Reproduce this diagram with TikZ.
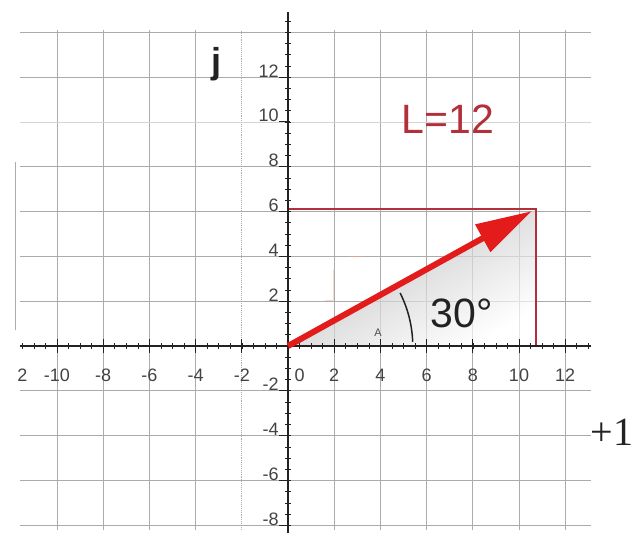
\documentclass[tikz,border=0pt]{standalone}
\usepackage{fontspec}
\setmainfont{Liberation Sans}
\newfontfamily\phserif{Liberation Serif}
\usetikzlibrary{arrows.meta}
\definecolor{phred}{HTML}{E31B1B}
\definecolor{phdark}{HTML}{B3303A}
\definecolor{phgray}{HTML}{ABABAB}
\definecolor{phink}{HTML}{222222}
\definecolor{phorange}{HTML}{F2A27E}
\tikzset{
  phgrid/.style={draw=phgray, line width=0.9pt},
  phaxis/.style={draw=phink, line width=1.6pt},
  phtick/.style={draw=phink, line width=1pt},
  phnum/.style={font=\fontsize{18}{18}\selectfont, text=phink!85, inner sep=0pt},
  phbig/.style={font=\fontsize{41}{41}\selectfont, inner sep=0pt},
  phvec/.style={-{Triangle[length=56pt,width=30pt]}, draw=phred, fill=phred, line width=6pt},
  phproj/.style={draw=phdark, line width=1.8pt},
}

\begin{document}
\begin{tikzpicture}[x=1pt, y=1pt]
  \useasboundingbox[fill=white] (0,0) rectangle (637,533);
  \begin{scope}[shift={(288pt,187pt)}, x=23.1pt, y=22.4pt]
    % grid
    \foreach \g in {-10,-8,...,-4,2,4,...,12}
      \draw[phgrid] (\g,-8.2) -- (\g,14.1);
    \draw[phgrid, densely dotted] (-2,-8.2) -- (-2,14.1);
    \draw[phgrid] (-11.8,0.7) -- (-11.8,8.2);
    \foreach \g in {-8,-6,...,8,12,14}
      \draw[phgrid] (-11.6,\g) -- (13.1,\g);
    \draw[phgrid, draw=phgray!50] (-11.6,10) -- (13.1,10);

    % vector and its projections
    \coordinate (O) at (0,0);
    \coordinate (P) at (10.75,6.1);
    \coordinate (Px) at (10.75,0);
    \coordinate (Py) at (0,6.1);
    \coordinate (T) at (10.55,6.02);
    \shade[shading=axis, top color=gray!70, bottom color=white, shading angle=30, opacity=0.7]
      (O) -- (P) -- (Px) -- cycle;
    \draw[phproj] (Py) -- (P) -- (Px);

    % axes
    \draw[phaxis] (-11.6,0) -- (13.1,0);
    \draw[phaxis] (0,-8.35) -- (0,14.9);
    \foreach \t in {-11.5,-11,...,13}
      \draw[phtick, line width=0.6pt] (\t,-0.12) -- (\t,0.12);
    \foreach \t in {-8,-7.5,...,14.5}
      \draw[phtick, line width=0.6pt] (-0.12,\t) -- (0.12,\t);
    \foreach \t in {-10,-8,...,12}
      \draw[phtick] (\t,-0.3) -- (\t,0.3);
    \foreach \t in {-8,-6,...,12}
      \draw[phtick] (-0.4,\t) -- (0.1,\t);

    % tick labels
    \foreach \v [count=\i] in {-10,-8,-6,-4,-2,2,4,6,8,10,12}
      \node[phnum, anchor=base] (xl\i) at (\v,-1.6) {\v};
    \node[phnum, anchor=base] (xl0) at (0.5,-1.6) {0};
    \node[phnum, anchor=base] (xlcut) at (-11.5,-1.6) {2};
    \foreach \v [count=\i] in {-8,-6,-4,-2,2,4,6,8,10,12}
      \node[phnum, anchor=base east] (yl\i) at (-0.4,\v) {\v};

    % faint marks
    \draw[phorange, line width=1.2pt, opacity=0.6] (2.7,4.0) -- (3.25,4.0);
    \draw[phorange, line width=1pt, opacity=0.4] (1.95,3.4) -- (1.95,2.05) -- (1.6,2.05);

    \draw[phvec] (O) -- (T);
    \draw[phtick, line width=1.5pt] (2:5.4) arc[start angle=2, end angle=26, radius=5.4];

    % labels
    \node[phbig, text=phdark] (len) at (6.93,10.13) {L=12};
    \node[phbig, text=phink] (ang) at (7.53,1.47) {30°};
    \node[font=\fontsize{11}{11}\selectfont, text=phink!80, inner sep=0pt] (theta) at (3.9,0.58) {A};
    \node[font=\fontsize{36}{36}\selectfont\bfseries, text=phink, inner sep=0pt] (jlbl) at (-3.1,12.6) {j};
    \node[font=\fontsize{40}{40}\selectfont\phserif, text=phink, inner sep=0pt] (re) at (14.03,-3.84) {+1};
  \end{scope}
\end{tikzpicture}
\end{document}
